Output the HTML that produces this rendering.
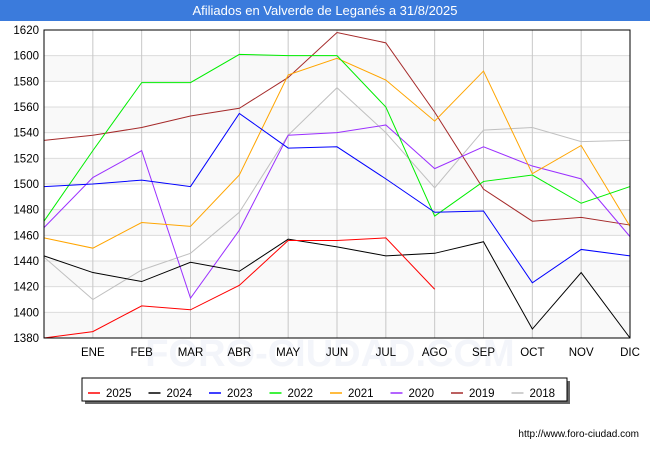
<!DOCTYPE html>
<html><head><meta charset="utf-8"><style>
body{margin:0;width:650px;height:450px;background:#fff;font-family:"Liberation Sans",sans-serif;overflow:hidden}
</style></head><body>
<svg width="650" height="450" xmlns="http://www.w3.org/2000/svg" id="svg">
<rect x="0" y="0" width="650" height="21" fill="#3b7bdc"/>
<text x="325" y="15" text-anchor="middle" font-size="13" fill="#fff">Afiliados en Valverde de Leganés a 31/8/2025</text>
<text x="330" y="366" text-anchor="middle" font-size="38" fill="#f3f5fa" font-weight="bold">FORO-CIUDAD.COM</text>
<g id="grid"></g><g id="lines"></g>
<rect x="44" y="30" width="586" height="308" fill="none" stroke="#000" stroke-width="1"/>
<g id="legend"></g>
<text x="639" y="437" text-anchor="end" font-size="10" fill="#000">http://www.foro-ciudad.com</text>
</svg>
<script>
const months=["","ENE","FEB","MAR","ABR","MAY","JUN","JUL","AGO","SEP","OCT","NOV","DIC"];
const yTicks=[1380,1400,1420,1440,1460,1480,1500,1520,1540,1560,1580,1600,1620];
const seriesNames=["2025","2024","2023","2022","2021","2020","2019","2018"];
const seriesColors=["#ff0000","#000000","#0000ff","#00ee00","#ffa500","#9b30ff","#a52a2a","#c0c0c0"];
const s2025=[1380,1385,1405,1402,1421,1456,1456,1458,1418];
const s2024=[1444,1431,1424,1439,1432,1457,1451,1444,1446,1455,1387,1431,1380];
const s2023=[1498,1500,1503,1498,1555,1528,1529,1504,1478,1479,1423,1449,1444];
const s2022=[1471,1526,1579,1579,1601,1600,1600,1560,1475,1502,1507,1485,1498];
const s2021=[1458,1450,1470,1467,1507,1585,1598,1581,1549,1588,1508,1530,1467];
const s2020=[1466,1505,1526,1411,1464,1538,1540,1546,1512,1529,1514,1504,1459];
const s2019=[1534,1538,1544,1553,1559,1583,1618,1610,1556,1496,1471,1474,1468];
const s2018=[1443,1410,1433,1446,1478,1538,1575,1540,1497,1542,1544,1533,1534];
const seriesData=[s2025,s2024,s2023,s2022,s2021,s2020,s2019,s2018];
const NS="http://www.w3.org/2000/svg";
const x0=44,x1=630,y0=30,y1=338,ymin=1380,ymax=1620;
const xs=i=>x0+i*(x1-x0)/12;
const ys=v=>y1-(v-ymin)*(y1-y0)/(ymax-ymin);
function mk(t,a,p){const e=document.createElementNS(NS,t);for(const k in a)e.setAttribute(k,a[k]);p.appendChild(e);return e;}
const grid=document.getElementById("grid");
for(let i=0;i<yTicks.length-1;i+=2){const r=mk("rect",{x:x0,y:ys(yTicks[i+1]),width:x1-x0,height:ys(yTicks[i])-ys(yTicks[i+1]),fill:"#f7f7f7","fill-opacity":"0.8"},grid);

}
yTicks.forEach(v=>{const l=mk("line",{x1:x0,x2:x1,y1:ys(v),y2:ys(v),stroke:"#dcdcdc"},grid);


const t=mk("text",{x:x0-5,y:ys(v)+4,"text-anchor":"end","font-size":"11.5",fill:"#000"},grid);t.textContent=v;

});
months.forEach((m,i)=>{if(i==0)return;const l=mk("line",{x1:xs(i),x2:xs(i),y1:y0,y2:y1,stroke:"#c8c8c8"},grid);


const t=mk("text",{x:xs(i),y:356,"text-anchor":"middle","font-size":"11.5",fill:"#000"},grid);t.textContent=m;

});
const lines=document.getElementById("lines");
for(let s=seriesData.length-1;s>=0;s--){const pts=seriesData[s].map((v,i)=>xs(i)+","+ys(v)).join(" ");
const p=mk("polyline",{points:pts,fill:"none",stroke:seriesColors[s],"stroke-width":"1"},lines);

}
const lg=document.getElementById("legend");
const sh=mk("rect",{x:85,y:381,width:485,height:23,fill:"#666"},lg);


const box=mk("rect",{x:82,y:378,width:485,height:23,fill:"#fff",stroke:"#000"},lg);


seriesNames.forEach((n,i)=>{const lx=88+i*60.5;
const l=mk("line",{x1:lx,x2:lx+12,y1:393,y2:393,stroke:seriesColors[i],"stroke-width":"1.5"},lg);


const t=mk("text",{x:lx+18,y:397,"font-size":"11.5",fill:"#000"},lg);t.textContent=n;

});
</script>
</body></html>
